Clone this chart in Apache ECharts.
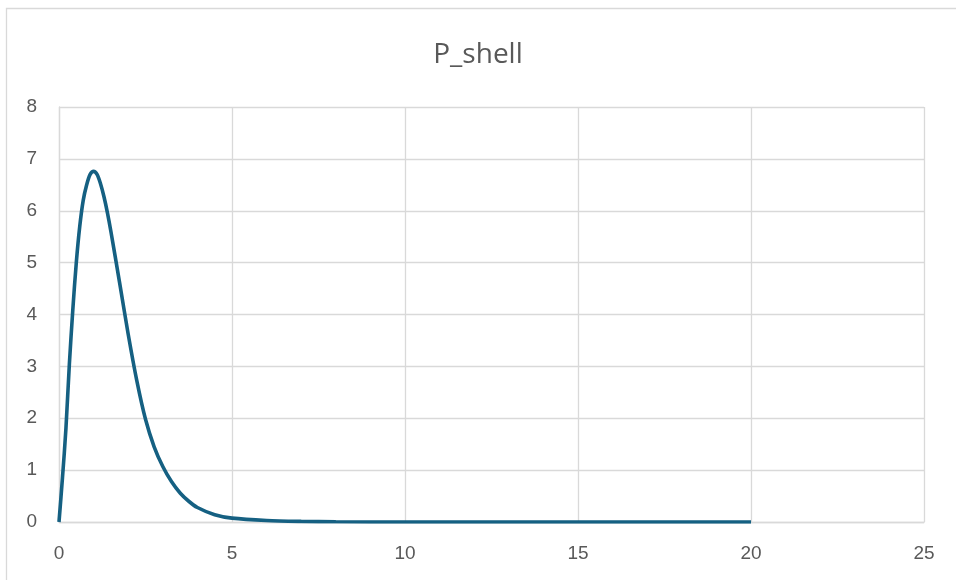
<!DOCTYPE html>
<html>
<head>
<meta charset="utf-8">
<script src="https://cdn.jsdelivr.net/npm/echarts@6/dist/echarts.min.js"></script>
<style>
  html, body { margin: 0; padding: 0; background: #fff; }
  #chart { width: 956px; height: 580px; }
</style>
</head>
<body>
<div id="chart"></div>
<script>
// values
const rValues = [0, 0.1, 0.2, 0.3, 0.4, 0.5, 0.6, 0.7, 0.8, 0.9, 1.0, 1.1, 1.2, 1.3, 1.4, 1.5, 1.75, 2.0, 2.25, 2.5, 2.75, 3.0, 3.25, 3.5, 3.75, 4.0, 4.5, 5, 6, 7, 8, 10, 15, 20];
const pShell = [0, 0.85, 1.8, 3.05, 4.1, 5.0, 5.7, 6.2, 6.5, 6.7, 6.76, 6.7, 6.52, 6.27, 5.96, 5.6, 4.62, 3.62, 2.72, 1.98, 1.45, 1.07, 0.78, 0.56, 0.4, 0.28, 0.14, 0.075, 0.03, 0.012, 0.004, 0, 0, 0];
const xTicks = [0, 5, 10, 15, 20, 25];
const yTicks = [0, 1, 2, 3, 4, 5, 6, 7, 8];

const chart = echarts.init(document.getElementById('chart'));
const labelColor = '#595959';
const gridColor = '#d9d9d9';

chart.setOption({
  backgroundColor: '#fff',
  animation: false,
  title: {
    text: 'P_shell',
    left: 'center',
    top: 36,
    textStyle: { fontFamily: 'Open Sans', fontSize: 28, fontWeight: 'normal', color: labelColor }
  },
  graphic: [{
    type: 'rect',
    shape: { x: 6.5, y: 8.5, width: 960, height: 580 },
    style: { fill: 'none', stroke: gridColor, lineWidth: 1.3 },
    silent: true
  }],
  grid: { left: 59, right: 32, top: 107, bottom: 58 },
  xAxis: {
    type: 'value',
    min: xTicks[0],
    max: xTicks[xTicks.length - 1],
    interval: 5,
    axisLine: { show: true, lineStyle: { color: gridColor, width: 1.3 } },
    axisTick: { show: false },
    splitLine: { show: true, lineStyle: { color: gridColor, width: 1.3 } },
    axisLabel: { color: labelColor, fontFamily: 'Liberation Sans', fontSize: 19, margin: 22 }
  },
  yAxis: {
    type: 'value',
    min: yTicks[0],
    max: yTicks[yTicks.length - 1],
    interval: 1,
    axisLine: { show: true, lineStyle: { color: gridColor, width: 1.3 } },
    axisTick: { show: false },
    splitLine: { show: true, lineStyle: { color: gridColor, width: 1.3 } },
    axisLabel: { color: labelColor, fontFamily: 'Liberation Sans', fontSize: 19, margin: 22 }
  },
  series: [{
    type: 'line',
    data: rValues.map((r, i) => [r, pShell[i]]),
    smooth: 0.3,
    showSymbol: false,
    lineStyle: { color: '#156082', width: 3.6 },
    itemStyle: { color: '#156082' }
  }]
});
</script>
</body>
</html>
